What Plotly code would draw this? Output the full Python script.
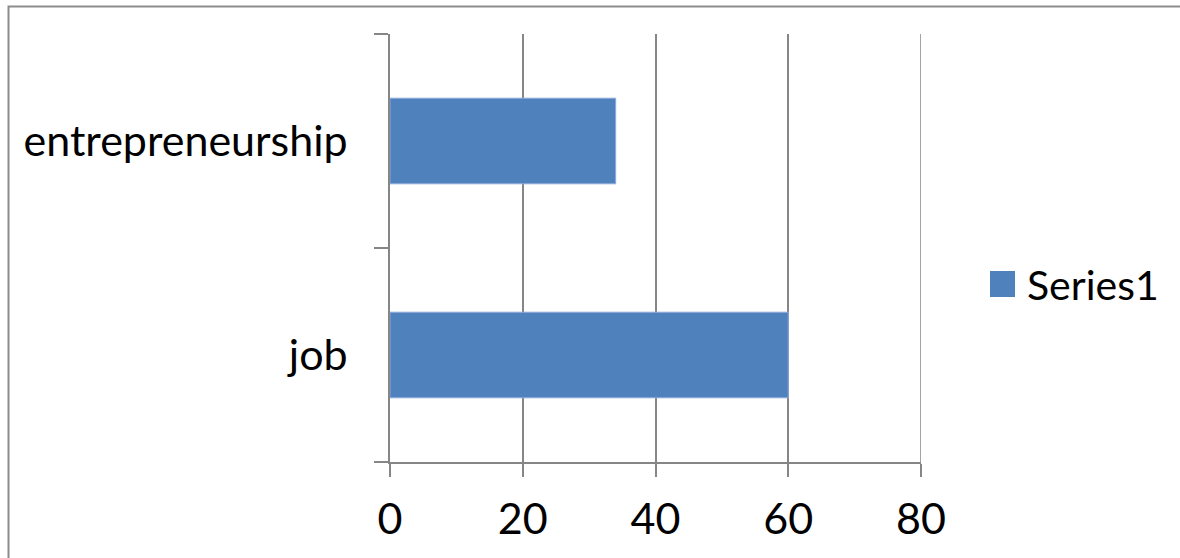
import plotly.graph_objects as go

# Data
categories = ["job", "entrepreneurship"]
values = [60, 34]
series_name = "Series1"
x_ticks = [0, 20, 40, 60, 80]

BAR_COLOR = "#4F81BD"
GRID_COLOR = "#868686"
FONT = "Lato"

W, H = 1180, 558
ML, MR, MT, MB = 390, 259, 34, 96
PW = W - ML - MR
PH = H - MT - MB


def px_to_paper_x(px):
    return (px - ML) / PW


def px_to_paper_y(py):
    return 1 - (py - MT) / PH


fig = go.Figure()
fig.add_trace(go.Bar(
    y=categories,
    x=values,
    orientation="h",
    name=series_name,
    marker=dict(color=BAR_COLOR, line=dict(color="#8EAADB", width=1)),
    showlegend=False,
))

# Outer chart border
fig.add_shape(type="rect", xref="paper", yref="paper",
              x0=px_to_paper_x(8.5), x1=px_to_paper_x(W + 20),
              y0=px_to_paper_y(H + 20), y1=px_to_paper_y(6.5),
              line=dict(color="#8C8C8C", width=2), fillcolor="rgba(0,0,0,0)")

# Right-hand edge gridline at the top of the value range
fig.add_shape(type="line", xref="x", yref="paper",
              x0=x_ticks[-1], x1=x_ticks[-1], y0=0, y1=1,
              line=dict(color=GRID_COLOR, width=1.5))

# Legend swatch and label
fig.add_shape(type="rect", xref="paper", yref="paper",
              x0=px_to_paper_x(990), x1=px_to_paper_x(1015),
              y0=px_to_paper_y(297), y1=px_to_paper_y(271),
              line=dict(width=0), fillcolor=BAR_COLOR)
fig.add_annotation(xref="paper", yref="paper",
                   x=px_to_paper_x(1025), y=px_to_paper_y(284),
                   xanchor="left", yanchor="middle", showarrow=False,
                   text=series_name, font=dict(family=FONT, size=41, color="black"))

fig.update_layout(
    width=W, height=H,
    margin=dict(l=ML, r=MR, t=MT, b=MB, pad=0),
    paper_bgcolor="white", plot_bgcolor="white",
    bargap=0.6,
    font=dict(family=FONT, size=43, color="black"),
)
fig.update_xaxes(
    range=[0, 80], tickvals=x_ticks, ticktext=[str(v) for v in x_ticks],
    showgrid=True, gridcolor=GRID_COLOR, gridwidth=1.5,
    showline=True, linecolor=GRID_COLOR, linewidth=1.5,
    ticks="outside", ticklen=13, tickcolor=GRID_COLOR, tickwidth=1.5,
    zeroline=False, ticklabelstandoff=6,
    tickfont=dict(family=FONT, size=43, color="black"),
)
fig.update_yaxes(
    type="category", categoryorder="array", categoryarray=categories,
    range=[-0.5, 1.5],
    showgrid=False, showline=True, linecolor=GRID_COLOR, linewidth=1.5,
    ticks="outside", tickson="boundaries", ticklen=14, tickcolor=GRID_COLOR, tickwidth=1.5,
    ticklabelstandoff=32,
    tickfont=dict(family=FONT, size=43, color="black"),
)

fig.write_html("out.html")
